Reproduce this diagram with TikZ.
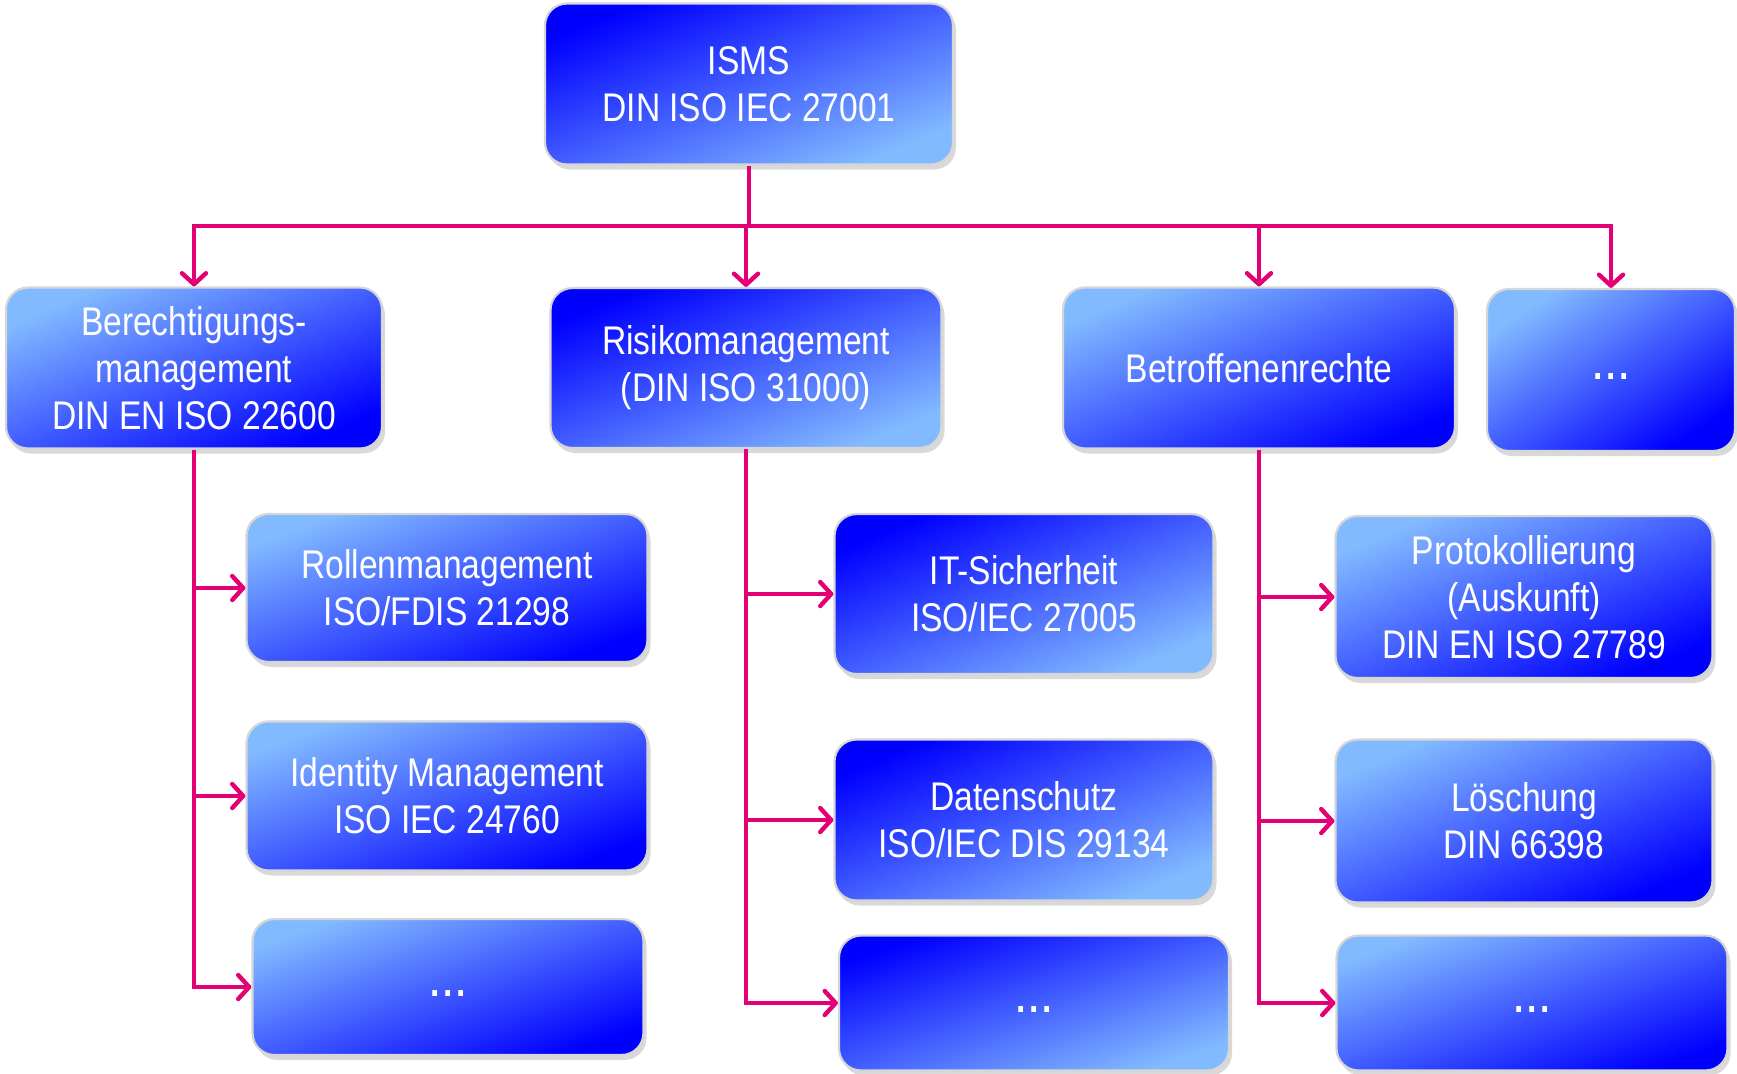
\documentclass[tikz,border=0pt]{standalone}
\usepackage{fontspec}
\setmainfont{Liberation Sans}[FakeStretch=0.84]
\usetikzlibrary{arrows.meta, shadows}
\definecolor{tmagenta}{RGB}{226,0,116}
\definecolor{blueDark}{RGB}{0,0,255}
\definecolor{blueLight}{RGB}{130,186,255}
\newcommand{\moredots}{\strut\textbf{.\kern2pt.\kern2pt.}}

\begin{document}
\begin{tikzpicture}[x=0.5pt,y=-0.5pt,
  box/.style={rounded corners=11pt, draw=black!16, line width=1.1pt, text=white,
    align=center, inner sep=0pt, font=\fontsize{20}{23.5}\selectfont,
    drop shadow={shadow xshift=1.5pt, shadow yshift=-2.5pt, opacity=0.3}},
  lbox/.style={box, top color=blueLight, bottom color=blueDark, shading angle=#1},
  lbox/.default=22,
  dbox/.style={box, top color=blueDark, bottom color=blueLight, shading angle=#1},
  dbox/.default=22,
  link/.style={draw=tmagenta, line width=2.2pt},
  conn/.style={link, -{Straight Barb[length=5.5pt, width=12pt, round]}}]
\path[use as bounding box] (0,0) rectangle (1737,1073);

% top level
\node[dbox, minimum width=204pt, minimum height=80.5pt] (isms) at (749,84) {ISMS\\DIN ISO IEC 27001};

% second level
\node[lbox=23, minimum width=188pt, minimum height=80.5pt] (berecht) at (194,368) {Berechtigungs-\\management\\DIN EN ISO 22600};
\node[dbox, minimum width=195.5pt, minimum height=80pt] (risiko) at (746,368) {Risikomanagement\\(DIN ISO 31000)};
\node[lbox, minimum width=196pt, minimum height=80.5pt] (betroff) at (1259,368) {Betroffenenrechte};
\node[lbox=33, minimum width=124pt, minimum height=81pt] (more1) at (1611,370) {\moredots};

% third level
\node[lbox=20, minimum width=200.5pt, minimum height=74pt] (rollen) at (447,588) {Rollenmanagement\\ISO/FDIS 21298};
\node[lbox=20, minimum width=200.5pt, minimum height=74.5pt] (ident) at (447,796) {Identity Management\\ISO IEC 24760};
\node[lbox=19, minimum width=195.5pt, minimum height=68pt] (more2) at (448,987) {\moredots};
\node[dbox=23, minimum width=189.5pt, minimum height=80pt] (itsich) at (1024,594) {IT-Sicherheit\\ISO/IEC 27005};
\node[dbox=23, minimum width=189.5pt, minimum height=80.5pt] (daten) at (1024,820) {Datenschutz\\ISO/IEC DIS 29134};
\node[dbox=19, minimum width=195pt, minimum height=67.5pt] (more3) at (1034,1003) {\moredots};
\node[lbox=23, minimum width=188.5pt, minimum height=81pt] (proto) at (1524,597) {Protokollierung\\(Auskunft)\\DIN EN ISO 27789};
\node[lbox=23, minimum width=188.5pt, minimum height=81.5pt] (loesch) at (1524,821) {Löschung\\DIN 66398};
\node[lbox=19, minimum width=195.5pt, minimum height=67.5pt] (more4) at (1532,1003) {\moredots};

% connectors
\coordinate (bus) at (749,226);
\draw[link] (isms.south) -- (bus);
\foreach \n in {berecht,risiko,betroff,more1}
  \draw[conn] (bus) -| (\n.north);
\foreach \p/\c in {berecht/rollen,berecht/ident,berecht/more2,
    risiko/itsich,risiko/daten,risiko/more3,
    betroff/proto,betroff/loesch,betroff/more4}
  \draw[conn] (\p.south) |- (\c.west);
\end{tikzpicture}
\end{document}
